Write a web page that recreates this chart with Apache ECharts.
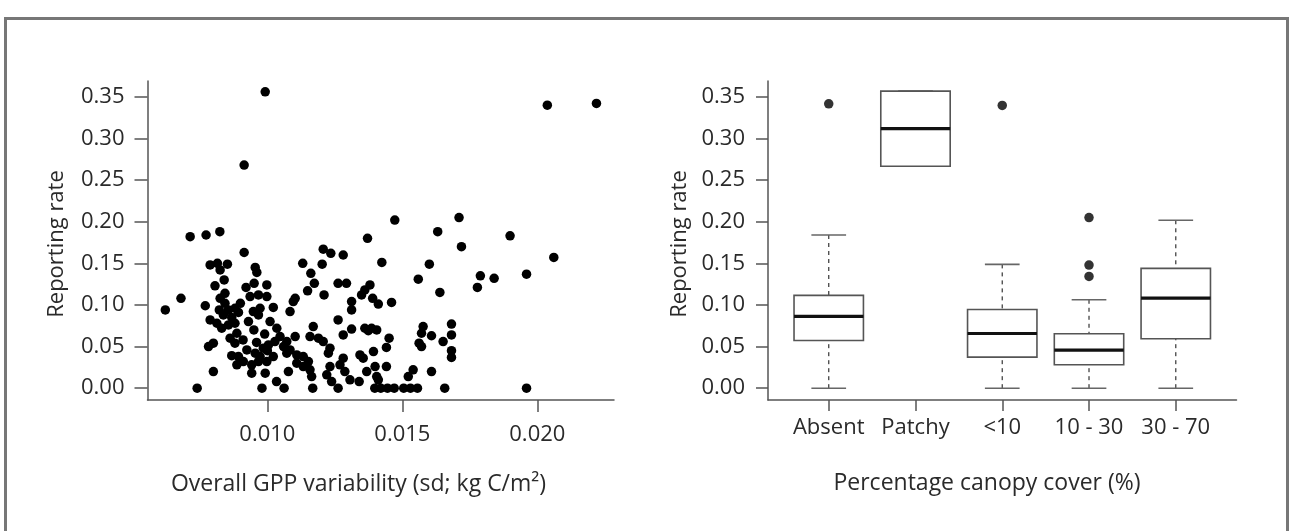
<!DOCTYPE html>
<html>
<head>
<meta charset="utf-8">
<script src="https://cdn.jsdelivr.net/npm/echarts@6/dist/echarts.min.js"></script>
<style>
html,body{margin:0;padding:0;background:#fff;}
#chart{width:1290px;height:531px;}
</style>
</head>
<body>
<div id="chart"></div>
<script>
// ---- Left panel: scatter of reporting rate vs GPP variability ----
const gppX = [
0.00992,0.00914,0.02037,0.02219,0.00714,0.00773,0.00824,0.00914,0.01472,0.01371,
0.01631,0.01710,0.01899,0.01719,0.02061,0.01789,0.01840,0.01960,0.01778,0.01639,
0.01682,0.01682,0.01651,0.01682,0.01682,0.01657,0.01960,
0.01207,0.01235,0.01281,0.01131,0.01203,0.01424,0.01600,0.01161,0.01559,0.01174,
0.01262,0.01293,0.01380,0.01361,0.01349,0.01149,0.01210,0.01103,0.01096,0.01084,
0.01390,0.01411,0.01460,0.01312,0.01312,0.01262,0.01170,0.01312,0.01361,0.01386,
0.01405,0.01374,0.01577,0.01571,0.01562,0.01571,0.01608,0.01103,0.01158,0.01189,
0.01207,0.01232,0.01226,0.01281,0.01451,0.01441,0.01393,0.01343,0.01355,0.01281,
0.01269,0.01232,0.01220,0.01084,0.01109,0.01133,0.01152,0.01133,0.01158,0.01164,
0.01287,0.01306,0.01399,0.01405,0.01411,0.01441,0.01368,0.01540,0.01522,0.01608,
0.01340,0.01238,
0.00740,0.00980,0.01062,0.01168,0.01262,0.01398,0.01420,0.01445,0.01470,0.01505,
0.01530,0.01556,0.01034,
0.00788,0.00815,0.00825,0.00852,0.00955,0.00961,0.00806,0.00843,0.00921,0.00951,
0.00998,0.00680,0.00622,0.00770,0.00825,0.00843,0.00856,0.00822,0.00880,0.00893,
0.00837,0.00868,0.00788,0.00813,0.00831,0.00856,0.00880,0.00887,0.00862,0.00880,
0.00936,0.00967,0.00998,0.01022,0.00973,0.00948,0.00967,0.00782,0.00800,0.00868,
0.00893,0.00887,0.00911,0.00924,0.00955,0.00973,0.00985,0.01004,0.01028,0.01035,
0.01047,0.01072,0.01072,0.01109,0.00942,0.00967,0.00998,0.01022,0.00800,0.00942,
0.00992,0.01078,
0.00900,0.00930,0.00950,0.00990,0.01010,0.00840,0.01060,0.00910,0.01000,0.00960
];
const gppY = [
0.356,0.268,0.340,0.342,0.182,0.184,0.188,0.163,0.202,0.180,
0.188,0.205,0.183,0.170,0.157,0.135,0.132,0.137,0.121,0.115,
0.077,0.064,0.056,0.045,0.037,0.000,0.000,
0.167,0.162,0.160,0.150,0.149,0.151,0.149,0.138,0.131,0.126,
0.126,0.126,0.124,0.118,0.112,0.117,0.112,0.108,0.104,0.092,
0.108,0.101,0.103,0.104,0.094,0.082,0.074,0.071,0.072,0.072,
0.070,0.069,0.074,0.066,0.054,0.050,0.063,0.062,0.062,0.060,
0.056,0.048,0.042,0.064,0.060,0.049,0.044,0.040,0.036,0.036,
0.028,0.026,0.016,0.046,0.040,0.038,0.032,0.026,0.022,0.014,
0.020,0.010,0.026,0.014,0.010,0.026,0.020,0.022,0.014,0.020,
0.008,0.008,
0.000,0.000,0.000,0.000,0.000,0.000,0.000,0.000,0.000,0.000,
0.000,0.000,0.008,
0.148,0.150,0.142,0.149,0.145,0.139,0.123,0.114,0.121,0.126,
0.124,0.108,0.094,0.099,0.108,0.102,0.094,0.094,0.096,0.091,
0.088,0.085,0.082,0.078,0.072,0.076,0.078,0.066,0.060,0.054,
0.110,0.112,0.110,0.097,0.096,0.092,0.088,0.050,0.054,0.039,
0.038,0.028,0.032,0.046,0.042,0.038,0.048,0.052,0.056,0.072,
0.062,0.056,0.042,0.030,0.028,0.032,0.032,0.038,0.020,0.018,
0.018,0.020,
0.102,0.080,0.070,0.065,0.080,0.130,0.050,0.058,0.045,0.055
];
const gppTicks = [0.010, 0.015, 0.020];
const rateTicks = [0.00, 0.05, 0.10, 0.15, 0.20, 0.25, 0.30, 0.35];

// ---- Right panel: boxplots by canopy cover ----
const categories = ['Absent', 'Patchy', '<10', '10 - 30', '30 - 70'];
const boxLow    = [0.0000, 0.2666, 0.0000, 0.0000, 0.0000];
const boxQ1     = [0.0573, 0.2666, 0.0373, 0.0281, 0.0593];
const boxMedian = [0.0862, 0.3119, 0.0657, 0.0457, 0.1082];
const boxQ3     = [0.1115, 0.3568, 0.0946, 0.0653, 0.1439];
const boxHigh   = [0.1840, 0.3568, 0.1487, 0.1062, 0.2017];
const outlierCat = [1, 3, 4, 4, 4];
const outlierVal = [0.3416, 0.3396, 0.2049, 0.1479, 0.1343];

const FONT = '"Open Sans", "DejaVu Sans", sans-serif';
const TXT = '#2a2a2a';
const AX = '#555';

const scatterData = gppX.map((x, i) => [x, gppY[i]]);
const boxData = categories.map((c, i) => [i + 1, boxLow[i], boxQ1[i], boxMedian[i], boxQ3[i], boxHigh[i]]);
const outlierData = outlierCat.map((c, i) => [c, outlierVal[i]]);

function renderBox(params, api) {
  const x = api.value(0), lo = api.value(1), q1 = api.value(2), med = api.value(3), q3 = api.value(4), hi = api.value(5);
  const half = 0.4, cap = 0.2;
  const p = (a, b) => api.coord([a, b]);
  const lineEl = (a, b, style) => ({ type: 'line', shape: { x1: a[0], y1: a[1], x2: b[0], y2: b[1] }, style: style });
  const dashStyle = { stroke: '#444', lineWidth: 1.3, lineDash: [4, 4] };
  const capStyle = { stroke: '#666', lineWidth: 1.6 };
  const tl = p(x - half, q3), br = p(x + half, q1);
  const children = [];
  if (hi > q3) children.push(lineEl(p(x, hi), p(x, q3), dashStyle));
  if (lo < q1) children.push(lineEl(p(x, lo), p(x, q1), dashStyle));
  children.push(lineEl(p(x - cap, hi), p(x + cap, hi), capStyle));
  children.push(lineEl(p(x - cap, lo), p(x + cap, lo), capStyle));
  children.push({ type: 'rect', shape: { x: tl[0], y: tl[1], width: br[0] - tl[0], height: br[1] - tl[1] },
    style: { fill: '#fff', stroke: '#555', lineWidth: 1.6 } });
  children.push(lineEl(p(x - half, med), p(x + half, med), { stroke: '#111', lineWidth: 3.2 }));
  return { type: 'group', children: children };
}

function yAxisCfg(gridIndex, tickLen, margin) {
  return {
    type: 'value', gridIndex: gridIndex, min: -0.0142, max: 0.369,
    axisLine: { show: true, lineStyle: { color: AX, width: 1.5 } },
    axisTick: { show: true, customValues: rateTicks, length: tickLen, lineStyle: { color: AX, width: 1.5 } },
    axisLabel: { customValues: rateTicks, formatter: v => v.toFixed(2), margin: margin,
      fontSize: 22, fontFamily: FONT, color: TXT },
    splitLine: { show: false }
  };
}

const chart = echarts.init(document.getElementById('chart'), null, { renderer: 'canvas' });
chart.setOption({
  animation: false,
  backgroundColor: '#fff',
  grid: [
    { left: 147.5, top: 81, width: 466.5, height: 319 },
    { left: 768, top: 81, width: 468.5, height: 319 }
  ],
  xAxis: [
    {
      type: 'value', gridIndex: 0, min: 0.00556, max: 0.02284,
      axisLine: { show: true, onZero: false, lineStyle: { color: AX, width: 1.5 } },
      axisTick: { show: true, customValues: gppTicks, length: 12, lineStyle: { color: AX, width: 1.5 } },
      axisLabel: { customValues: gppTicks, formatter: v => v.toFixed(3), margin: 24,
        fontSize: 22, fontFamily: FONT, color: TXT },
      splitLine: { show: false }
    },
    {
      type: 'value', gridIndex: 1, min: 0.3, max: 5.7,
      axisLine: { show: true, onZero: false, lineStyle: { color: AX, width: 1.5 } },
      axisTick: { show: true, customValues: [1, 2, 3, 4, 5], length: 11, lineStyle: { color: AX, width: 1.5 } },
      axisLabel: { customValues: [1, 2, 3, 4, 5], formatter: v => categories[Math.round(v) - 1], margin: 17,
        fontSize: 22, fontFamily: FONT, color: TXT },
      splitLine: { show: false }
    }
  ],
  yAxis: [yAxisCfg(0, 13, 23), yAxisCfg(1, 12, 23)],
  series: [
    {
      type: 'scatter', xAxisIndex: 0, yAxisIndex: 0, data: scatterData,
      symbol: 'circle', symbolSize: 9.5, itemStyle: { color: '#000', opacity: 1 },
      emphasis: { disabled: true }, silent: true
    },
    {
      type: 'custom', xAxisIndex: 1, yAxisIndex: 1, data: boxData, renderItem: renderBox,
      silent: true
    },
    {
      type: 'scatter', xAxisIndex: 1, yAxisIndex: 1, data: outlierData,
      symbol: 'circle', symbolSize: 9.5, itemStyle: { color: '#000' }, z: 5,
      emphasis: { disabled: true }, silent: true
    }
  ],
  graphic: [
    { type: 'rect', shape: { x: 5.5, y: 18.5, width: 1282, height: 620 },
      style: { fill: 'none', stroke: '#777', lineWidth: 3 }, silent: true },
    { type: 'text', x: 57, y: 244, rotation: Math.PI / 2,
      style: { text: 'Reporting rate', font: '22px ' + FONT, fill: TXT, align: 'center', verticalAlign: 'middle' } },
    { type: 'text', x: 680, y: 244, rotation: Math.PI / 2,
      style: { text: 'Reporting rate', font: '22px ' + FONT, fill: TXT, align: 'center', verticalAlign: 'middle' } },
    { type: 'text', x: 358.5, y: 484,
      style: { text: 'Overall GPP variability (sd; kg C/m²)', font: '23px ' + FONT, fill: TXT, align: 'center', verticalAlign: 'middle' } },
    { type: 'text', x: 987, y: 483,
      style: { text: 'Percentage canopy cover (%)', font: '23px ' + FONT, fill: TXT, align: 'center', verticalAlign: 'middle' } }
  ]
});
</script>
</body>
</html>
